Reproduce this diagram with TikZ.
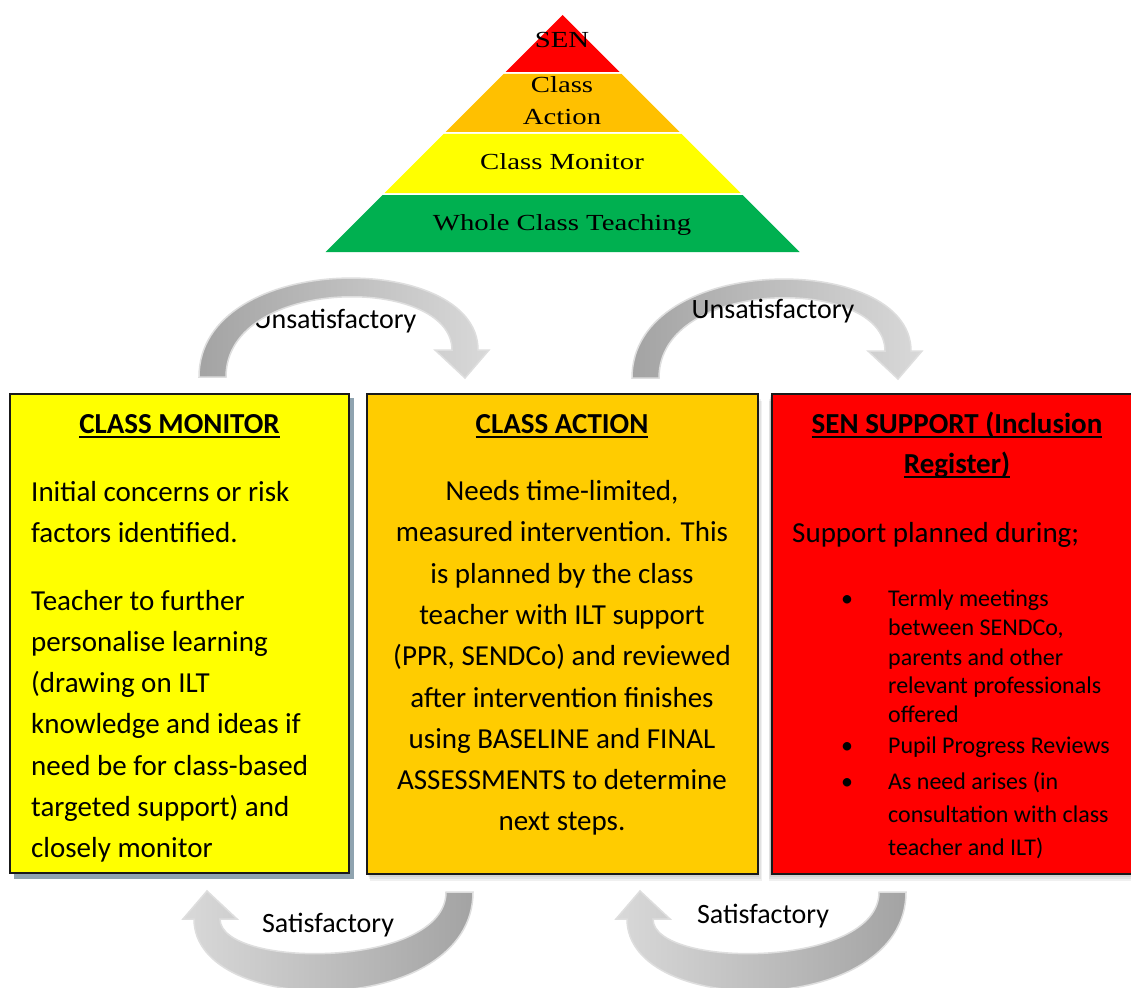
\documentclass[tikz,border=0pt]{standalone}
\usepackage{fontspec}
\setmainfont{Carlito}
\newfontfamily\pyrfont[FakeStretch=1.25]{Liberation Serif}
\definecolor{pOrange}{HTML}{FFC000}
\definecolor{pGreen}{HTML}{00B050}
\definecolor{pYellow}{HTML}{FFFF00}
\definecolor{pRed}{HTML}{FF0000}
\definecolor{bOrange}{HTML}{FFCC00}
\definecolor{shadowBlue}{HTML}{8FA3AF}
\newcommand\myul[1]{\setbox0\hbox{#1}\rlap{\rule[-4.5pt]{\wd0}{1.8pt}}\box0}
\begin{document}
\begin{tikzpicture}[x=1pt,y=-1pt,
  txt/.style={inner sep=0pt, font=\fontsize{29}{35}\selectfont},
  ttl/.style={inner sep=0pt, font=\bfseries\fontsize{29}{35}\selectfont},
  bul/.style={inner sep=0pt, font=\fontsize{24}{29}\selectfont},
  lab/.style={inner sep=0pt, font=\fontsize{28}{34}\selectfont},
  pyr/.style={inner sep=0pt, font=\pyrfont\fontsize{23}{28}\selectfont},
  box/.style={draw=black!90, line width=2pt, anchor=north west, inner sep=0pt},
  arrT/.style={draw=black!13, line width=1.5pt, left color=black!36, right color=black!15},
  arrB/.style={draw=black!13, line width=1.5pt, left color=black!15, right color=black!36},
  softsh/.style={fill=black, opacity=0.06}]
\clip (0,0) rectangle (1131,987);
\fill[white] (0,0) rectangle (1131,987);

% pyramid
\fill[pRed] (562.5,15) -- (619.5,72) -- (505.5,72) -- cycle;
\fill[pOrange] (503.5,74) -- (621.5,74) -- (679.5,132) -- (445.5,132) -- cycle;
\fill[pYellow] (443.5,134) -- (681.5,134) -- (740.5,193) -- (384.5,193) -- cycle;
\fill[pGreen] (382.5,195) -- (742.5,195) -- (799.5,252) -- (325.5,252) -- cycle;
\node[pyr, anchor=base] (pSEN) at (562,48) {SEN};
\node[pyr, anchor=base] (pCA1) at (562,93) {Class};
\node[pyr, anchor=base] (pCA2) at (562,125) {Action};
\node[pyr, anchor=base] (pCM) at (562,169) {Class Monitor};
\node[pyr, anchor=base] (pWC) at (562,230) {Whole Class Teaching};

% first label sits behind its arrow
\node[lab, anchor=base] (u1) at (335,328) {Unsatisfactory};

% curved arrows
\path[arrT] (199,377) .. controls (199,250) and (478,250) .. (478,350) -- (489,350) -- (465,378) -- (435,350) -- (452,350) .. controls (452,275) and (226,275) .. (226,377) -- cycle;
\path[arrT] (632,378) .. controls (632,251) and (911,251) .. (911,351) -- (922,351) -- (898,379) -- (868,351) -- (885,351) .. controls (885,276) and (659,276) .. (659,378) -- cycle;
\path[arrB] (473,892) .. controls (473,1019) and (194,1019) .. (194,919) -- (183,919) -- (207,891) -- (237,919) -- (220,919) .. controls (220,969) and (446,969) .. (446,892) -- cycle;
\path[arrB] (906,892) .. controls (906,1019) and (627,1019) .. (627,919) -- (616,919) -- (640,891) -- (670,919) -- (653,919) .. controls (653,969) and (879,969) .. (879,892) -- cycle;

% other labels
\node[lab, anchor=base] (u2) at (773,318) {Unsatisfactory};
\node[lab, anchor=base] (s1) at (328,932) {Satisfactory};
\node[lab, anchor=base] (s2) at (763,923) {Satisfactory};

% shadows
\fill[shadowBlue] (14,398) rectangle (354,879);
\foreach \d in {2,4,6,8} {
  \fill[softsh] (366+\d*0.5,393+\d) rectangle (757+\d*0.6,873+\d);
  \fill[softsh] (771-\d*0.3,393+\d) rectangle (1140,873+\d);
}

% boxes
\node[box, fill=pYellow, minimum width=339pt, minimum height=479pt] (cm) at (9,393) {};
\node[box, fill=bOrange, minimum width=391pt, minimum height=480pt] (ca) at (366,393) {};
\node[box, fill=pRed, minimum width=380pt, minimum height=480pt] (sen) at (771,393) {};

% titles
\node[ttl, anchor=base] (cmT) at (179.5,433) {\myul{CLASS MONITOR}};
\node[ttl, anchor=base] (caT) at (562,433) {\myul{CLASS ACTION}};
\node[ttl, anchor=base] (senT1) at (957,433) {\myul{SEN SUPPORT (Inclusion}};
\node[ttl, anchor=base] (senT2) at (957,473) {\myul{Register)}};

% class monitor text
\foreach \y/\t [count=\i] in {501/Initial concerns or risk, 542/factors identified., 610/Teacher to further, 651/personalise learning, 692/(drawing on ILT, 733/knowledge and ideas if, 775/need be for class-based, 816/targeted support) and, 857/closely monitor}
  \node[txt, anchor=base west] (cmL\i) at (31,\y) {\t};

% class action text
\foreach \y/\t [count=\i] in {500/{Needs time-limited,}, 541/measured intervention. This, 583/is planned by the class, 624/teacher with ILT support, 665/{(PPR, SENDCo) and reviewed}, 707/after intervention finishes, 748/using BASELINE and FINAL, 789/ASSESSMENTS to determine, 830/next steps.}
  \node[txt, anchor=base] (caL\i) at (562,\y) {\t};

% SEN support text
\node[txt, anchor=base west] (senL0) at (792,542) {Support planned during;};
\foreach \y/\t [count=\i] in {606/Termly meetings, 635/{between SENDCo,}, 665/parents and other, 693/relevant professionals, 722/offered, 753/Pupil Progress Reviews, 789/As need arises (in, 822/consultation with class, 855/teacher and ILT)}
  \node[bul, anchor=base west] (senL\i) at (888,\y) {\t};
\foreach \y [count=\i] in {606,753,789}
  \node[bul, anchor=base] (dot\i) at (847,\y) {•};
\end{tikzpicture}
\end{document}
